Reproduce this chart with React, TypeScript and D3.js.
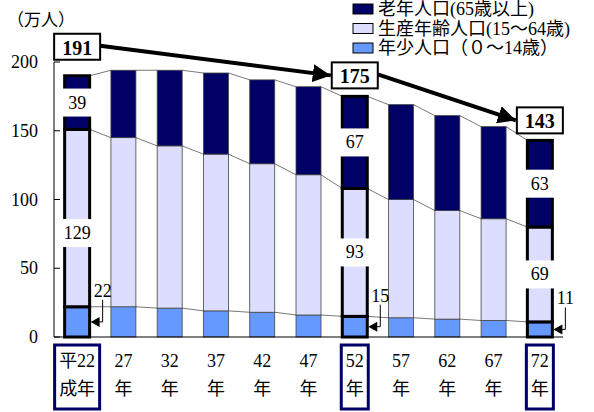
import React, { useEffect } from "react";
import * as d3 from "d3";

const categories = ["平22", "27", "32", "37", "42", "47", "52", "57", "62", "67", "72"];
const catLine1 = ["平22", "27", "32", "37", "42", "47", "52", "57", "62", "67", "72"];
const catLine2 = ["成年", "年", "年", "年", "年", "年", "年", "年", "年", "年", "年"];
const young = [22, 22, 21, 19, 18, 16, 15, 14, 13, 12, 11];
const working = [129, 123, 118, 114, 108, 102, 93, 86, 79, 74, 69];
const elderly = [39, 49, 55, 59, 61, 64, 67, 69, 69, 67, 63];
const highlighted = [0, 6, 10];
const totalLabels = [191, 175, 143];
const yTicks = [0, 50, 100, 150, 200];
const seriesNames = ["老年人口(65歳以上)", "生産年齢人口(15～64歳)", "年少人口（０～14歳）"];
const seriesColors = ["#000066", "#DDDDFF", "#6699FF"];

const W = 594;
const H = 412;
const FONT = "'Liberation Serif', 'DejaVu Serif', 'Noto Sans CJK JP', serif";

export default function App() {
  useEffect(() => {
    document.body.style.margin = "0";
  }, []);

  const x = d3.scaleBand<string>().domain(categories).range([54, 563]).paddingInner(0.46).paddingOuter(0.23);
  const y = d3.scaleLinear().domain([0, 200]).range([337, 62]);
  const bw = x.bandwidth();

  const stacks = categories.map((c, i) => {
    const y0 = 0, y1 = young[i], y2 = young[i] + working[i], y3 = young[i] + working[i] + elderly[i];
    return { c, i, segs: [[y0, y1], [y1, y2], [y2, y3]] as [number, number][] };
  });

  const seriesLines: any[] = [];
  for (let i = 0; i < categories.length - 1; i++) {
    for (let s = 0; s < 3; s++) {
      const a = stacks[i].segs[s][1];
      const b = stacks[i + 1].segs[s][1];
      seriesLines.push(
        <line key={`sl${i}-${s}`} x1={x(categories[i])! + bw} y1={y(a)} x2={x(categories[i + 1])!} y2={y(b)} stroke="#555" strokeWidth={0.8} />
      );
    }
  }

  const segColor = [seriesColors[2], seriesColors[1], seriesColors[0]];
  const labelShift = [[0, 15], [0, 0], [0, 0]];
  const boxShift = [-29, -21, -20];

  const boxes = highlighted.map((idx, k) => {
    const cx = x(categories[idx])! + bw / 2;
    const top = young[idx] + working[idx] + elderly[idx];
    const cy = y(top) + boxShift[k];
    return { cx, cy, w: 46, h: 26, label: totalLabels[k] };
  });

  return (
    <svg width={W} height={H} style={{ display: "block" }} fontFamily={FONT}>
      <defs>
        <marker id="bigArrow" markerUnits="userSpaceOnUse" markerWidth="20" markerHeight="18" refX="18" refY="9" orient="auto">
          <path d="M0,0 L18,9 L0,18 Z" fill="#000" />
        </marker>
      </defs>
      <rect width={W} height={H} fill="#fff" />

      <text x={7} y={20} fontSize={17} dominantBaseline="central">（万人）</text>

      {seriesLines}

      {stacks.map((st) => {
        const hl = highlighted.includes(st.i);
        return (
          <g key={st.c}>
            {st.segs.map((sg, s) => (
              <rect
                key={s}
                x={x(st.c)!}
                y={y(sg[1])}
                width={bw}
                height={y(sg[0]) - y(sg[1])}
                fill={segColor[s]}
                stroke={hl ? "#000" : "#444"}
                strokeWidth={hl ? 3 : 0.8}
              />
            ))}
          </g>
        );
      })}

      {highlighted.map((idx, k) => {
        const st = stacks[idx];
        const bx = x(st.c)!;
        const cx = bx + bw / 2;
        return [1, 2].map((s) => {
          const sg = st.segs[s];
          const val = s === 1 ? working[idx] : elderly[idx];
          const cy = (y(sg[0]) + y(sg[1])) / 2 + (s === 1 ? labelShift[k][1] : labelShift[k][0]);
          return (
            <g key={`lab${idx}-${s}`}>
              <rect x={bx - 3} y={cy - 14} width={bw + 6} height={28} fill="#fff" />
              <text x={cx} y={cy} fontSize={18} textAnchor="middle" dominantBaseline="central">{val}</text>
            </g>
          );
        });
      })}

      {highlighted.map((idx) => {
        const bx = x(categories[idx])! + bw;
        const ay = y(young[idx] / 2);
        const lx = bx + 13;
        const ty = ay - 31;
        return (
          <g key={`co${idx}`}>
            <text x={lx} y={ty} fontSize={18} textAnchor="middle" dominantBaseline="central">{young[idx]}</text>
            <polyline points={`${lx},${ty + 9} ${lx},${ay} ${bx + 8},${ay}`} fill="none" stroke="#000" strokeWidth={1} />
            <polygon points={`${bx + 1},${ay} ${bx + 10},${ay - 5} ${bx + 10},${ay + 5}`} fill="#000" />
          </g>
        );
      })}

      <line x1={54} y1={y(200)} x2={54} y2={y(0)} stroke="#000" strokeWidth={1} />
      <line x1={54} y1={y(0)} x2={563} y2={y(0)} stroke="#000" strokeWidth={1} />
      {yTicks.map((t) => (
        <g key={`t${t}`}>
          <line x1={54} x2={60} y1={y(t)} y2={y(t)} stroke="#000" strokeWidth={1} />
          <text x={38} y={y(t)} fontSize={18} textAnchor="end" dominantBaseline="central">{t}</text>
        </g>
      ))}

      {categories.map((c, i) => {
        const cx = x(c)! + bw / 2;
        const hl = highlighted.includes(i);
        const bwid = i === 0 ? 45 : 27;
        return (
          <g key={`cat${c}`}>
            {hl && <rect x={cx - bwid / 2} y={345} width={bwid} height={64} fill="none" stroke="#000066" strokeWidth={3} />}
            <text x={cx} y={361} fontSize={18} textAnchor="middle" dominantBaseline="central">{catLine1[i]}</text>
            <text x={cx} y={389} fontSize={18} textAnchor="middle" dominantBaseline="central">{catLine2[i]}</text>
          </g>
        );
      })}

      {boxes.slice(0, -1).map((b, k) => {
        const n = boxes[k + 1];
        return (
          <line key={`ar${k}`} x1={b.cx + b.w / 2} y1={b.cy - 1} x2={n.cx - n.w / 2 - 1} y2={n.cy} stroke="#000" strokeWidth={4} markerEnd="url(#bigArrow)" />
        );
      })}

      {boxes.map((b) => (
        <g key={`box${b.label}`}>
          <rect x={b.cx - b.w / 2} y={b.cy - b.h / 2} width={b.w} height={b.h} fill="#fff" stroke="#000" strokeWidth={2} />
          <text x={b.cx} y={b.cy + 1} fontSize={20} fontWeight="bold" textAnchor="middle" dominantBaseline="central">{b.label}</text>
        </g>
      ))}

      {seriesNames.map((nm, k) => {
        const cy = 9 + k * 19.5;
        return (
          <g key={`lg${k}`}>
            <rect x={353} y={cy - 5} width={20} height={10} fill={seriesColors[k]} stroke="#000" strokeWidth={1} />
            <text x={378} y={cy} fontSize={18} dominantBaseline="central">{nm}</text>
          </g>
        );
      })}
    </svg>
  );
}
